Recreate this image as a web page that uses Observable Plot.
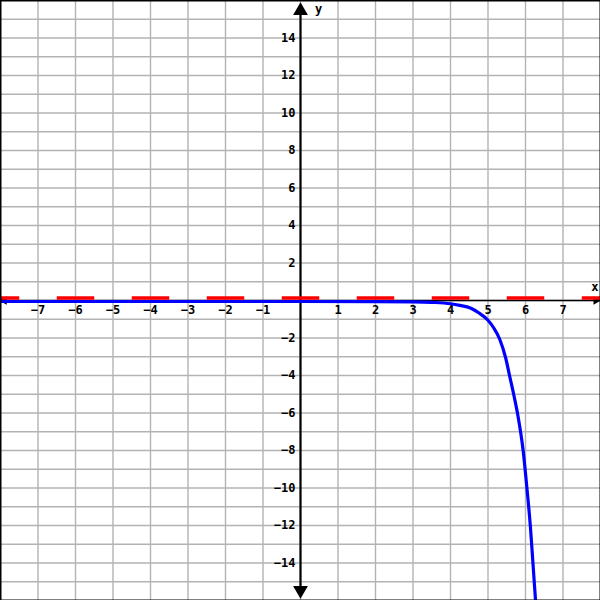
<!DOCTYPE html>
<html>
<head>
<meta charset="utf-8">
<script src="https://cdn.jsdelivr.net/npm/d3@7"></script>
<script src="https://cdn.jsdelivr.net/npm/@observablehq/plot@0.6"></script>
<style>
  html, body { margin: 0; padding: 0; background: #fff; }
  #chart svg { display: block; }
</style>
</head>
<body>
<div id="chart"></div>
<script>
// Data
const xGrid = [-7, -6, -5, -4, -3, -2, -1, 0, 1, 2, 3, 4, 5, 6, 7];
const yGrid = [-15, -14, -13, -12, -11, -10, -9, -8, -7, -6, -5, -4, -3, -2, -1, 0, 1, 2, 3, 4, 5, 6, 7, 8, 9, 10, 11, 12, 13, 14, 15];
const xTickLabels = [-7, -6, -5, -4, -3, -2, -1, 1, 2, 3, 4, 5, 6, 7];
const yTickLabels = [-14, -12, -10, -8, -6, -4, -2, 2, 4, 6, 8, 10, 12, 14];
const curveX = [-8, -6, -4, -2, 0, 2, 3, 3.5, 4, 4.25, 4.53, 4.75, 5, 5.15, 5.31, 5.47, 5.58, 5.69, 5.79, 5.94, 6.04, 6.13, 6.2, 6.27];
const curveY = [0, 0, 0, 0, 0, -0.004, -0.016, -0.045, -0.12, -0.21, -0.35, -0.6, -1, -1.4, -2, -3, -4, -5, -6, -8, -10, -12, -14, -16];
// Dashed red asymptote
const asymX = [-8, 8];
const asymY = [0, 0];

const curve = curveX.map((x, i) => ({x, y: curveY[i]}));
const asym = asymX.map((x, i) => ({x, y: asymY[i]}));

const font = "'DejaVu Sans Mono', 'Liberation Mono', monospace";
const fmt = d => d < 0 ? "\u2212" + Math.abs(d) : String(d);

const plot = Plot.plot({
  width: 600,
  height: 600,
  margin: 0,
  x: {domain: [-8, 8], axis: null},
  y: {domain: [-16, 16], axis: null},
  style: {fontFamily: font, background: "#fff"},
  marks: [
    Plot.ruleX(xGrid, {stroke: "#b3b3b3", strokeWidth: 1.4}),
    Plot.ruleY(yGrid, {stroke: "#b3b3b3", strokeWidth: 1.4}),
    Plot.ruleY([0], {stroke: "#000", strokeWidth: 1.6}),
    Plot.ruleX([0], {stroke: "#000", strokeWidth: 2.2, y1: -15.5, y2: 15.5}),
    Plot.dot([{x: 0, y: 15.45, r: 0}, {x: 0, y: -15.45, r: 180}], {x: "x", y: "y", rotate: "r", symbol: "triangle", r: 5.5, fill: "#000", stroke: "none"}),
    Plot.dot([{x: -7.9, y: 0, r: -90}, {x: 7.88, y: 0, r: 90}], {x: "x", y: "y", rotate: "r", symbol: "triangle", r: 3.2, fill: "#000", stroke: "none"}),
    Plot.text(xTickLabels, {x: d => d, y: 0, text: fmt, dy: 10, fontSize: 12, fontWeight: "bold", fill: "#000"}),
    Plot.text(yTickLabels, {x: 0, y: d => d, text: fmt, dx: -5, textAnchor: "end", fontSize: 12, fontWeight: "bold", fill: "#000"}),
    Plot.text(["x"], {x: 7.85, y: 0, dy: -13, text: d => d, fontSize: 12, fontWeight: "bold", fill: "#000"}),
    Plot.text(["y"], {x: 0, y: 16, dx: 18, dy: 9, text: d => d, fontSize: 12, fontWeight: "bold", fill: "#000"}),
    Plot.line(asym, {x: "x", y: "y", stroke: "#ff0000", strokeWidth: 3.5, dy: -2.5, strokeLinecap: "butt", strokeDasharray: "37.5,37.5", strokeDashoffset: 18.75}),
    Plot.line(curve, {x: "x", y: "y", stroke: "#0000ff", strokeWidth: 3.2, dy: 1, curve: "monotone-x"}),
    Plot.frame({stroke: "#000", strokeWidth: 2})
  ]
});
document.getElementById("chart").appendChild(plot);
</script>
</body>
</html>
